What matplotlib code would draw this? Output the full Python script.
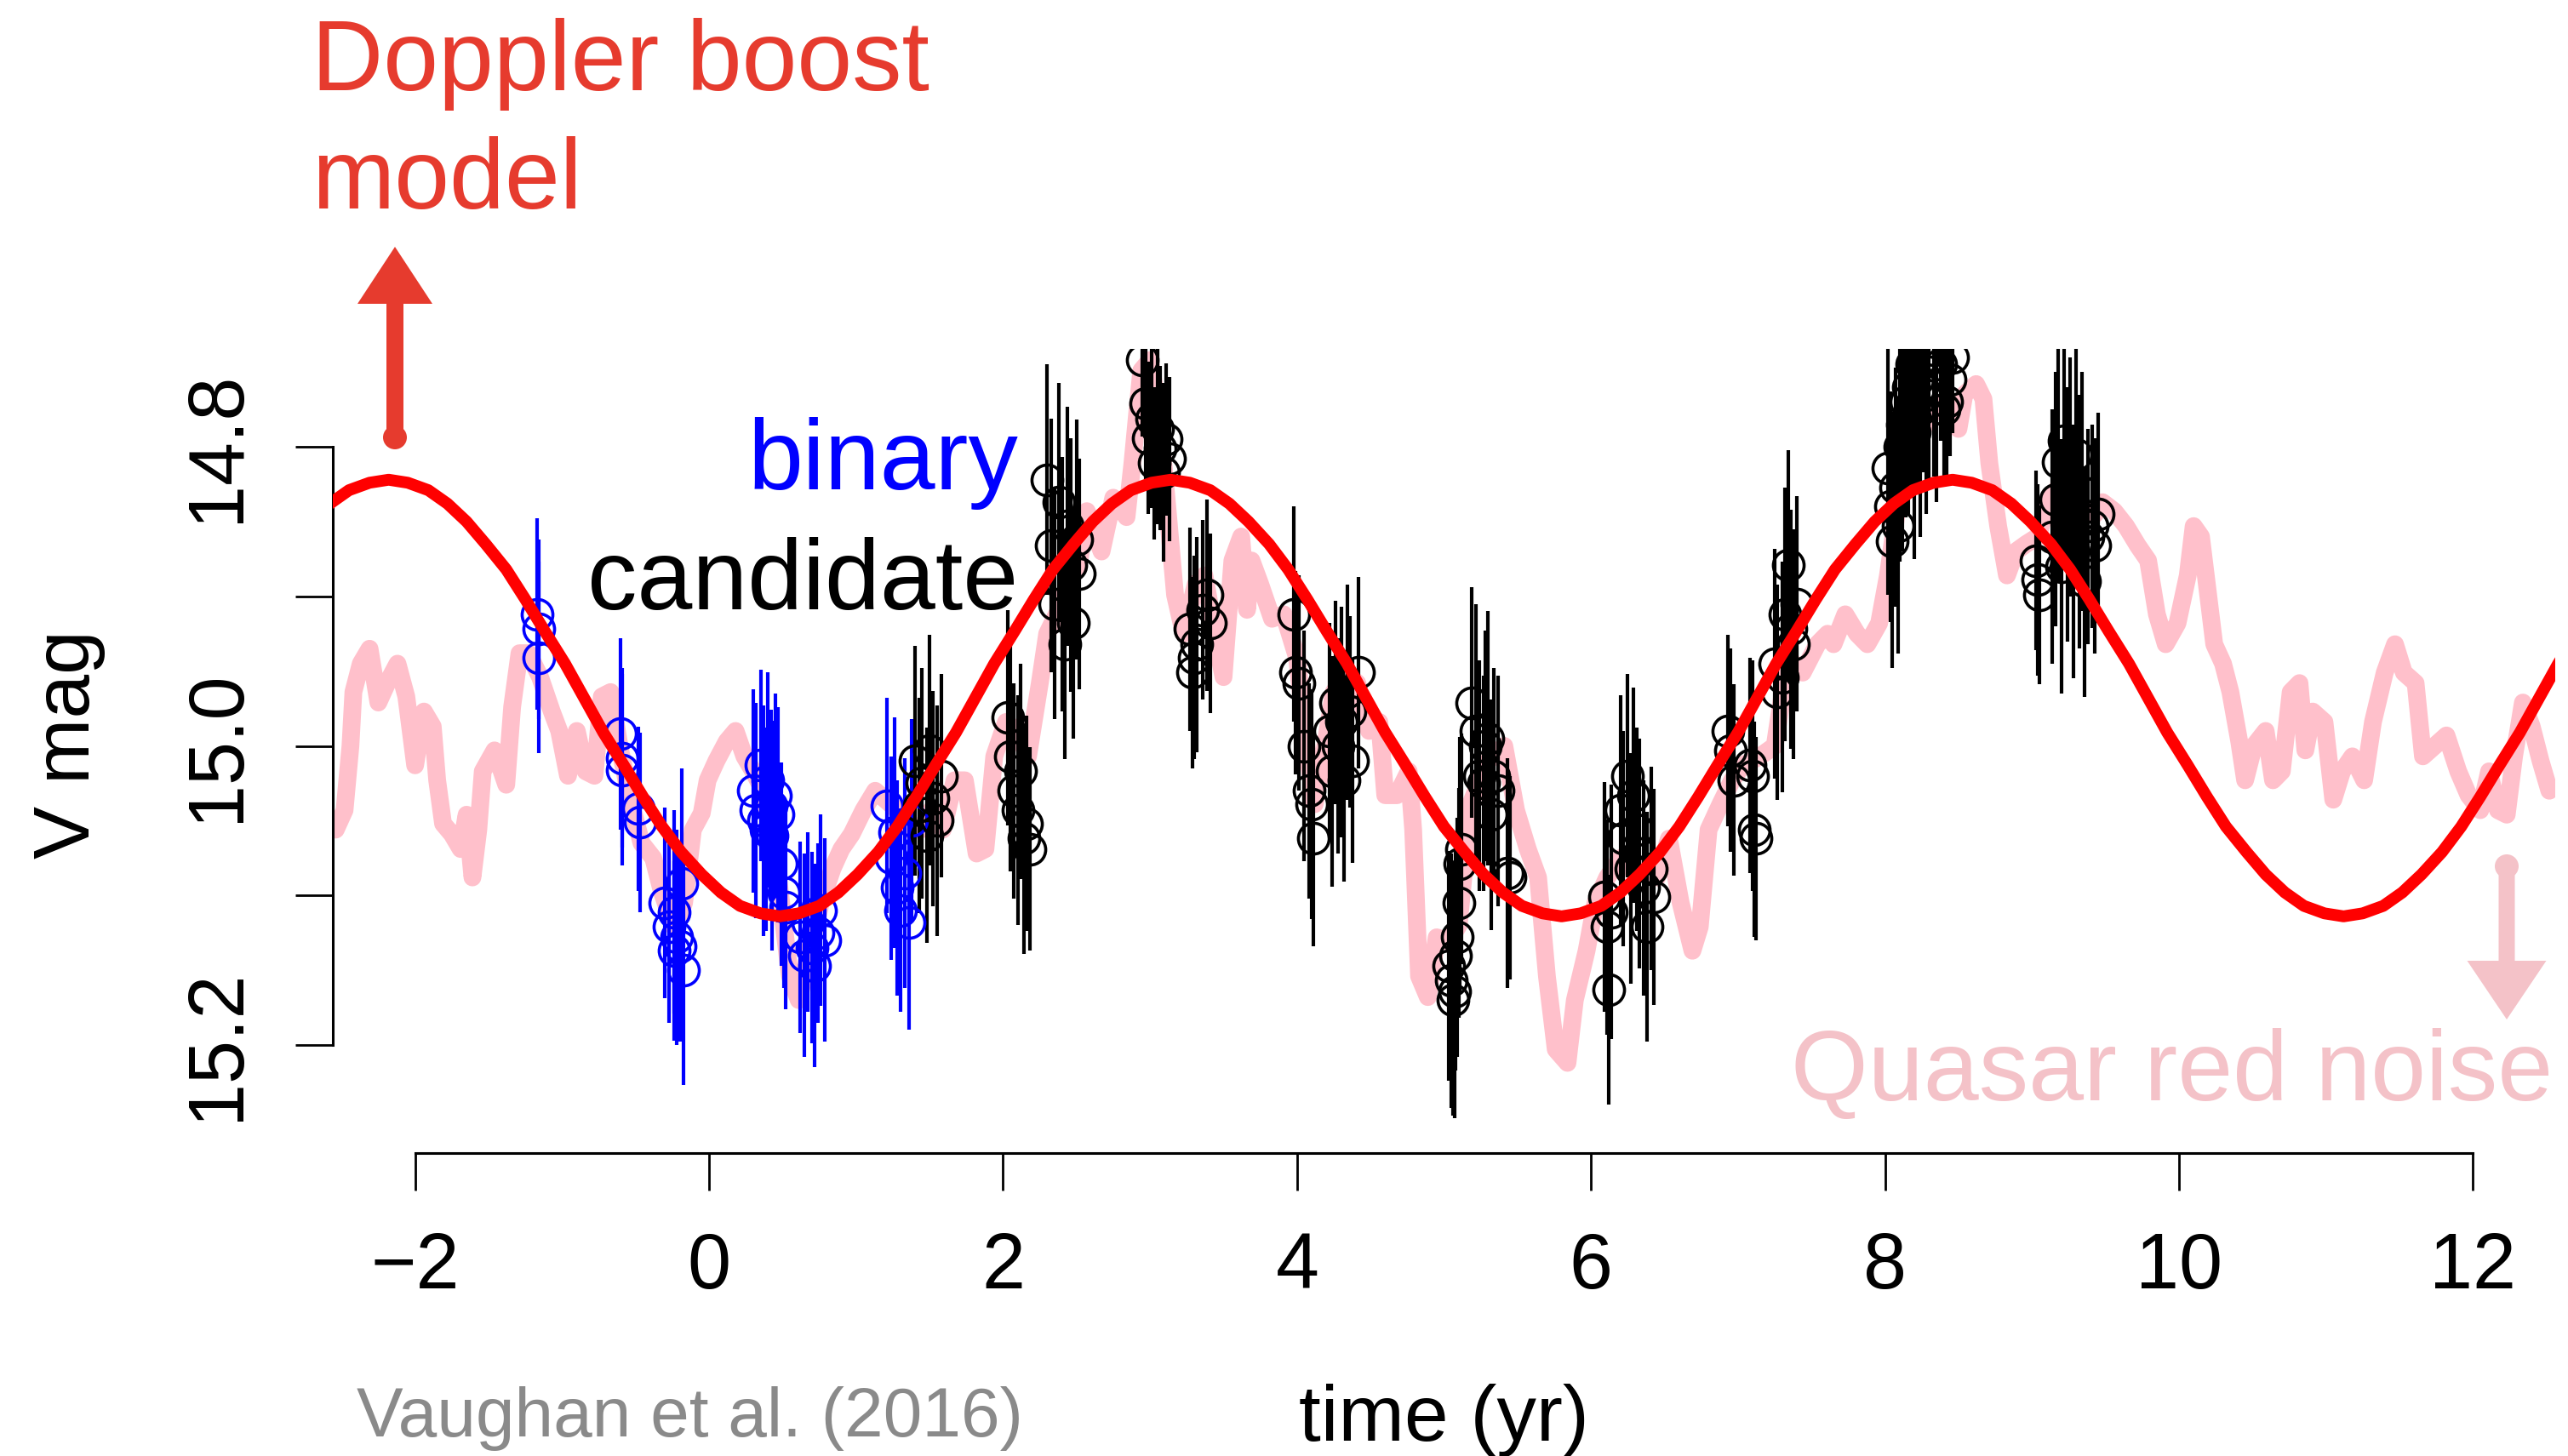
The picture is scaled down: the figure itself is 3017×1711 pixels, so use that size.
import matplotlib
matplotlib.use("Agg")
import matplotlib.pyplot as plt
from matplotlib.patches import FancyArrow, Circle

plt.rcParams['font.family'] = ['Liberation Sans', 'DejaVu Sans']

# simulated quasar red-noise light curve (pink)
noise_t = [-2.54, -2.48, -2.44, -2.42, -2.37, -2.31, -2.25, -2.19, -2.12, -2.06,
           -2.00, -1.94, -1.88, -1.85, -1.81, -1.75, -1.69, -1.65, -1.61, -1.57,
           -1.54, -1.46, -1.38, -1.34, -1.29, -1.23, -1.15, -1.07, -1.02, -0.96,
           -0.90, -0.84, -0.78, -0.73, -0.67, -0.61, -0.53, -0.46, -0.38, -0.32,
           -0.24, -0.17, -0.11, -0.05, -0.01, 0.05, 0.12, 0.18, 0.24, 0.30,
           0.37, 0.47, 0.55, 0.61, 0.68, 0.76, 0.84, 0.90, 0.97, 1.05,
           1.13, 1.20, 1.28, 1.36, 1.44, 1.51, 1.59, 1.67, 1.74, 1.82,
           1.88, 1.94, 2.02, 2.09, 2.17, 2.25, 2.30, 2.38, 2.44, 2.52,
           2.57, 2.67, 2.75, 2.84, 2.88, 2.94, 3.00, 3.06, 3.12, 3.17,
           3.23, 3.31, 3.37, 3.44, 3.50, 3.56, 3.62, 3.66, 3.69, 3.75,
           3.83, 3.91, 4.00, 4.06, 4.12, 4.18, 4.25, 4.33, 4.41, 4.49,
           4.56, 4.60, 4.68, 4.76, 4.79, 4.83, 4.89, 4.95, 5.03, 5.10,
           5.18, 5.30, 5.41, 5.49, 5.57, 5.64, 5.70, 5.76, 5.84, 5.89,
           5.97, 6.03, 6.11, 6.20, 6.30, 6.38, 6.45, 6.53, 6.61, 6.69,
           6.74, 6.80, 6.88, 6.96, 7.03, 7.15, 7.25, 7.34, 7.44, 7.54,
           7.61, 7.65, 7.73, 7.81, 7.88, 7.96, 8.02, 8.10, 8.20, 8.30,
           8.40, 8.46, 8.50, 8.54, 8.62, 8.67, 8.71, 8.77, 8.83, 8.89,
           8.96, 9.04, 9.12, 9.18, 9.25, 9.35, 9.43, 9.48, 9.56, 9.64,
           9.72, 9.79, 9.85, 9.91, 9.99, 10.06, 10.10, 10.15, 10.20, 10.24,
           10.30, 10.35, 10.41, 10.45, 10.51, 10.59, 10.64, 10.70, 10.76, 10.82,
           10.86, 10.91, 10.99, 11.05, 11.11, 11.18, 11.26, 11.32, 11.40, 11.47,
           11.53, 11.61, 11.66, 11.74, 11.82, 11.90, 11.97, 12.05, 12.11, 12.17,
           12.23, 12.28, 12.34, 12.40, 12.46, 12.52]
noise_mag = [15.056, 15.043, 15.000, 14.964, 14.945, 14.935, 14.971, 14.958, 14.945, 14.967,
             15.013, 14.977, 14.987, 15.023, 15.052, 15.059, 15.069, 15.046, 15.088, 15.056,
             15.017, 15.003, 15.026, 14.974, 14.938, 14.938, 14.954, 14.977, 14.990, 15.020,
             14.990, 15.017, 15.020, 14.967, 14.964, 15.000, 15.039, 15.065, 15.075, 15.098,
             15.121, 15.105, 15.056, 15.045, 15.023, 15.010, 14.997, 14.990, 15.007, 15.017,
             15.030, 15.088, 15.154, 15.170, 15.137, 15.105, 15.082, 15.069, 15.059, 15.043,
             15.030, 15.036, 15.043, 15.056, 15.056, 15.043, 15.056, 15.023, 15.023, 15.072,
             15.069, 15.007, 14.984, 14.990, 15.007, 14.958, 14.925, 14.909, 14.892, 14.876,
             14.843, 14.870, 14.834, 14.847, 14.811, 14.749, 14.742, 14.778, 14.843, 14.899,
             14.925, 14.892, 14.886, 14.925, 14.954, 14.876, 14.860, 14.909, 14.876, 14.892,
             14.915, 14.912, 14.941, 14.997, 15.039, 15.007, 14.964, 14.951, 14.958, 14.990,
             14.984, 15.033, 15.033, 15.017, 15.056, 15.154, 15.168, 15.128, 15.131, 15.120,
             15.039, 15.010, 15.000, 15.043, 15.069, 15.088, 15.154, 15.203, 15.212, 15.170,
             15.137, 15.105, 15.088, 15.075, 15.085, 15.082, 15.088, 15.062, 15.105, 15.137,
             15.121, 15.056, 15.039, 15.023, 15.013, 15.007, 15.000, 14.941, 14.951, 14.932,
             14.925, 14.932, 14.912, 14.925, 14.932, 14.918, 14.886, 14.830, 14.800, 14.780,
             14.770, 14.778, 14.788, 14.765, 14.758, 14.768, 14.811, 14.853, 14.886, 14.870,
             14.865, 14.860, 14.834, 14.827, 14.845, 14.840, 14.845, 14.837, 14.843, 14.853,
             14.866, 14.876, 14.912, 14.932, 14.918, 14.886, 14.853, 14.860, 14.900, 14.932,
             14.945, 14.964, 14.997, 15.023, 15.000, 14.990, 15.023, 15.017, 14.964, 14.958,
             15.003, 14.977, 14.984, 15.036, 15.017, 15.007, 15.023, 14.984, 14.951, 14.932,
             14.951, 14.958, 15.007, 15.000, 14.993, 15.017, 15.033, 15.043, 15.017, 15.043,
             15.046, 15.007, 14.971, 14.987, 15.010, 15.030]

# Doppler boost model curve (red)
model_t = [-2.71, -2.58, -2.45, -2.31, -2.18, -2.05, -1.91, -1.78, -1.65, -1.52,
           -1.38, -1.25, -1.12, -0.98, -0.85, -0.72, -0.58, -0.45, -0.32, -0.19,
           -0.05, 0.08, 0.21, 0.35, 0.48, 0.61, 0.75, 0.88, 1.01, 1.15,
           1.28, 1.41, 1.54, 1.68, 1.81, 1.94, 2.08, 2.21, 2.34, 2.48,
           2.61, 2.74, 2.87, 3.01, 3.14, 3.27, 3.41, 3.54, 3.67, 3.81,
           3.94, 4.07, 4.20, 4.34, 4.47, 4.60, 4.74, 4.87, 5.00, 5.14,
           5.27, 5.40, 5.53, 5.67, 5.80, 5.93, 6.07, 6.20, 6.33, 6.47,
           6.60, 6.73, 6.86, 7.00, 7.13, 7.26, 7.40, 7.53, 7.66, 7.80,
           7.93, 8.06, 8.19, 8.33, 8.46, 8.59, 8.73, 8.86, 8.99, 9.13,
           9.26, 9.39, 9.52, 9.66, 9.79, 9.92, 10.06, 10.19, 10.32, 10.46,
           10.59, 10.72, 10.85, 10.99, 11.12, 11.25, 11.39, 11.52, 11.65, 11.79,
           11.92, 12.05, 12.18, 12.32, 12.45, 12.58, 12.72]
model_mag = [14.850, 14.838, 14.829, 14.824, 14.822, 14.824, 14.829, 14.838, 14.850, 14.865,
             14.882, 14.902, 14.923, 14.945, 14.968, 14.991, 15.013, 15.034, 15.054, 15.071,
             15.086, 15.098, 15.107, 15.112, 15.114, 15.112, 15.107, 15.098, 15.086, 15.071,
             15.054, 15.034, 15.013, 14.991, 14.968, 14.945, 14.923, 14.902, 14.882, 14.865,
             14.850, 14.838, 14.829, 14.824, 14.822, 14.824, 14.829, 14.838, 14.850, 14.865,
             14.882, 14.902, 14.923, 14.945, 14.968, 14.991, 15.013, 15.034, 15.054, 15.071,
             15.086, 15.098, 15.107, 15.112, 15.114, 15.112, 15.107, 15.098, 15.086, 15.071,
             15.054, 15.034, 15.013, 14.991, 14.968, 14.945, 14.923, 14.902, 14.882, 14.865,
             14.850, 14.838, 14.829, 14.824, 14.822, 14.824, 14.829, 14.838, 14.850, 14.865,
             14.882, 14.902, 14.923, 14.945, 14.968, 14.991, 15.013, 15.034, 15.054, 15.071,
             15.086, 15.098, 15.107, 15.112, 15.114, 15.112, 15.107, 15.098, 15.086, 15.071,
             15.054, 15.034, 15.013, 14.991, 14.968, 14.945, 14.923]

# early observations (blue)
blue_t = [-1.17, -1.16, -1.16, -0.60, -0.59, -0.59, -0.48, -0.47,
          -0.30, -0.27, -0.24, -0.24, -0.22, -0.20, -0.185, -0.175,
          0.30, 0.32, 0.35, 0.37, 0.39, 0.40, 0.42, 0.43, 0.45, 0.47, 0.49, 0.51, 0.52,
          0.62, 0.65, 0.67, 0.70, 0.72, 0.74, 0.76, 0.79,
          1.21, 1.24, 1.26, 1.28, 1.30, 1.33, 1.36, 1.38]
blue_mag = [14.912, 14.922, 14.941, 14.992, 15.008, 15.016, 15.042, 15.051,
            15.105, 15.121, 15.111, 15.137, 15.128, 15.134, 15.092, 15.150,
            15.030, 15.043, 15.013, 15.050, 15.056, 15.023, 15.040, 15.060, 15.033, 15.046, 15.079, 15.098, 15.108,
            15.128, 15.140, 15.118, 15.135, 15.147, 15.125, 15.110, 15.130,
            15.040, 15.075, 15.058, 15.095, 15.110, 15.085, 15.118, 15.050]
blue_err = [0.064, 0.06, 0.064, 0.064, 0.06, 0.064, 0.055, 0.06,
            0.064, 0.064, 0.068, 0.06, 0.072, 0.064, 0.077, 0.077,
            0.068, 0.072, 0.064, 0.077, 0.068, 0.072, 0.064, 0.077, 0.068, 0.072, 0.068, 0.064, 0.068,
            0.064, 0.068, 0.06, 0.064, 0.068, 0.06, 0.064, 0.068,
            0.072, 0.068, 0.077, 0.072, 0.068, 0.077, 0.072, 0.068]

# later observations (black)
black_t = [1.40, 1.43, 1.45, 1.48, 1.50, 1.52, 1.55, 1.58,
           2.03, 2.05, 2.07, 2.10, 2.12, 2.14, 2.16, 2.18,
           2.30, 2.33, 2.35, 2.38, 2.40, 2.42, 2.44, 2.46, 2.48, 2.50, 2.52,
           2.95, 2.97, 2.99, 3.01, 3.03, 3.05, 3.07, 3.09, 3.11, 3.13,
           3.27, 3.29, 3.30, 3.32, 3.36, 3.39, 3.41,
           3.98, 3.99, 4.01, 4.05, 4.08, 4.10, 4.11,
           4.22, 4.24, 4.26, 4.28, 4.30, 4.32, 4.34, 4.36, 4.38, 4.42,
           5.03, 5.05, 5.06, 5.07, 5.08, 5.09, 5.10, 5.11, 5.12,
           5.19, 5.22, 5.24, 5.27, 5.28, 5.30, 5.32, 5.34, 5.37, 5.43, 5.45,
           6.09, 6.11, 6.12, 6.14, 6.20, 6.22, 6.25, 6.27, 6.29, 6.31, 6.33, 6.36, 6.38, 6.41, 6.43,
           6.93, 6.95, 6.97, 7.08, 7.10, 7.11, 7.12,
           7.25, 7.27, 7.30, 7.32, 7.34, 7.36, 7.38, 7.40,
           8.02, 8.04, 8.05, 8.07, 8.09, 8.10, 8.12, 8.14, 8.16, 8.18, 8.20, 8.22,
           8.24, 8.26, 8.28, 8.30, 8.33, 8.35, 8.38, 8.40, 8.42, 8.44, 8.46,
           9.03, 9.04, 9.05, 9.14, 9.16, 9.18, 9.20, 9.22, 9.24, 9.26,
           9.28, 9.30, 9.32, 9.34, 9.36, 9.38, 9.41, 9.43, 9.45]
black_mag = [15.010, 15.040, 15.025, 15.060, 15.003, 15.035, 15.050, 15.020,
             14.981, 15.007, 15.030, 15.043, 15.017, 15.062, 15.052, 15.069,
             14.822, 14.866, 14.905, 14.837, 14.892, 14.932, 14.853, 14.879, 14.918, 14.862, 14.885,
             14.742, 14.771, 14.794, 14.781, 14.811, 14.788, 14.801, 14.817, 14.795, 14.808,
             14.922, 14.951, 14.941, 14.932, 14.909, 14.899, 14.918,
             14.912, 14.951, 14.958, 15.000, 15.030, 15.039, 15.062,
             14.990, 15.017, 14.971, 15.000, 14.984, 15.023, 14.964, 14.977, 15.010, 14.951,
             15.147, 15.157, 15.170, 15.164, 15.140, 15.128, 15.105, 15.079, 15.069,
             14.971, 14.990, 15.020, 15.025, 15.000, 14.995, 15.046, 15.020, 15.030, 15.085, 15.088,
             15.101, 15.121, 15.163, 15.111, 15.043, 15.062, 15.020, 15.082, 15.033, 15.056, 15.072, 15.095, 15.121, 15.082, 15.101,
             14.990, 15.003, 15.023, 15.013, 15.020, 15.056, 15.062,
             14.945, 14.964, 14.954, 14.912, 14.879, 14.922, 14.932, 14.905,
             14.814, 14.840, 14.863, 14.827, 14.853, 14.800, 14.785, 14.770, 14.760, 14.745, 14.790, 14.755,
             14.775, 14.740, 14.765, 14.750, 14.735, 14.760, 14.745, 14.775, 14.770, 14.755, 14.740,
             14.876, 14.889, 14.899, 14.860, 14.835, 14.810, 14.880, 14.796, 14.845, 14.820,
             14.870, 14.805, 14.850, 14.830, 14.890, 14.860, 14.853, 14.866, 14.845]
black_err = [0.077, 0.072, 0.077, 0.072, 0.077, 0.072, 0.077, 0.068,
             0.072, 0.077, 0.072, 0.077, 0.072, 0.077, 0.072, 0.068,
             0.077, 0.085, 0.077, 0.08, 0.085, 0.077, 0.08, 0.085, 0.077, 0.08, 0.077,
             0.051, 0.055, 0.051, 0.06, 0.051, 0.064, 0.055, 0.06, 0.051, 0.055,
             0.068, 0.064, 0.068, 0.072, 0.06, 0.064, 0.06,
             0.072, 0.068, 0.072, 0.077, 0.072, 0.077, 0.072,
             0.072, 0.077, 0.068, 0.072, 0.077, 0.068, 0.072, 0.064, 0.068, 0.064,
             0.077, 0.085, 0.077, 0.085, 0.077, 0.08, 0.077, 0.085, 0.077,
             0.077, 0.085, 0.077, 0.072, 0.077, 0.085, 0.077, 0.072, 0.077, 0.077, 0.068,
             0.077, 0.072, 0.077, 0.085, 0.077, 0.072, 0.068, 0.077, 0.072, 0.068, 0.077, 0.072, 0.077, 0.068, 0.072,
             0.064, 0.068, 0.064, 0.072, 0.077, 0.072, 0.068,
             0.077, 0.072, 0.077, 0.085, 0.077, 0.08, 0.077, 0.072,
             0.085, 0.077, 0.085, 0.08, 0.085, 0.077, 0.085, 0.077, 0.085, 0.08, 0.085, 0.077,
             0.085, 0.077, 0.08, 0.077, 0.085, 0.077, 0.051, 0.051, 0.051, 0.051, 0.051,
             0.06, 0.064, 0.06, 0.085, 0.085, 0.08, 0.085, 0.077, 0.085, 0.08,
             0.085, 0.077, 0.085, 0.08, 0.077, 0.072, 0.068, 0.072, 0.068]

x_ticks = [-2, 0, 2, 4, 6, 8, 10, 12]
x_ticklabels = ['\u22122', '0', '2', '4', '6', '8', '10', '12']
y_ticks = [14.8, 14.9, 15.0, 15.1, 15.2]
y_ticklabels = ['14.8', '', '15.0', '', '15.2']

W, H = 3017, 1711
fig = plt.figure(figsize=(W / 100, H / 100), dpi=100)

ax = fig.add_axes([391 / W, (H - 1355) / H, 2611 / W, 945 / H])
ax.set_xlim(-2.56, 12.56)
ax.set_ylim(15.2723, 14.7345)

ax.plot(noise_t, noise_mag, color='#FFC0CB', lw=15, solid_capstyle='round',
        solid_joinstyle='round', zorder=1)

for t, m, e, c in [(blue_t, blue_mag, blue_err, '#0000FF'),
                   (black_t, black_mag, black_err, 'black')]:
    ax.errorbar(t, m, yerr=e, fmt='o', ms=26, mfc='none', mec=c, mew=2.6,
                ecolor=c, elinewidth=3.0, capsize=0, zorder=2)

ax.plot(model_t, model_mag, color='#FF0000', lw=10, solid_joinstyle='round', zorder=3)

for side in ['top', 'right']:
    ax.spines[side].set_visible(False)
ax.spines['left'].set_bounds(14.8, 15.2)
ax.spines['bottom'].set_bounds(-2, 12)
for side in ['left', 'bottom']:
    ax.spines[side].set_linewidth(2.2)

ax.set_xticks(x_ticks)
ax.set_xticklabels(x_ticklabels)
ax.set_yticks(y_ticks)
ax.set_yticklabels(y_ticklabels, rotation=90, va='center')
ax.tick_params(length=32, width=2.0, labelsize=66, pad=34)

ax.set_xlabel('time (yr)', fontsize=67)
ax.xaxis.label.set_va('baseline')
ax.xaxis.set_label_coords(0.5, -0.3577)
ax.set_ylabel('V mag', fontsize=67)
ax.yaxis.label.set_va('baseline')
ax.yaxis.set_label_coords(-0.1095, 0.508)

# annotation layer in pixel coordinates
ov = fig.add_axes([0, 0, 1, 1], zorder=5)
ov.set_xlim(0, W)
ov.set_ylim(H, 0)
ov.axis('off')
ov.patch.set_visible(False)

red_txt = '#E63B2E'
ov.text(366, 106, 'Doppler boost', fontsize=84, color=red_txt, va='baseline')
ov.text(366, 245, 'model', fontsize=84, color=red_txt, va='baseline')
ov.add_patch(FancyArrow(464, 520, 0, -230, width=20, head_width=88, head_length=67,
                        length_includes_head=True, color=red_txt, lw=0))
ov.add_patch(Circle((464, 514), 14, color=red_txt, lw=0))

ov.text(1196, 575, 'binary', fontsize=84, color='#0000FF', ha='right', va='baseline')
ov.text(1196, 716, 'candidate', fontsize=84, color='black', ha='right', va='baseline')

pink_txt = '#F4C2C8'
ov.text(2104, 1293, 'Quasar red noise', fontsize=84, color=pink_txt, va='baseline')
ov.add_patch(FancyArrow(2945, 1018, 0, 180, width=19, head_width=93, head_length=69,
                        length_includes_head=True, color=pink_txt, lw=0))
ov.add_patch(Circle((2945, 1018), 14, color=pink_txt, lw=0))

ov.text(419, 1688, 'Vaughan et al. (2016)', fontsize=59, color='#8A8A8A', va='baseline')

fig.savefig('out.png', dpi=100)
